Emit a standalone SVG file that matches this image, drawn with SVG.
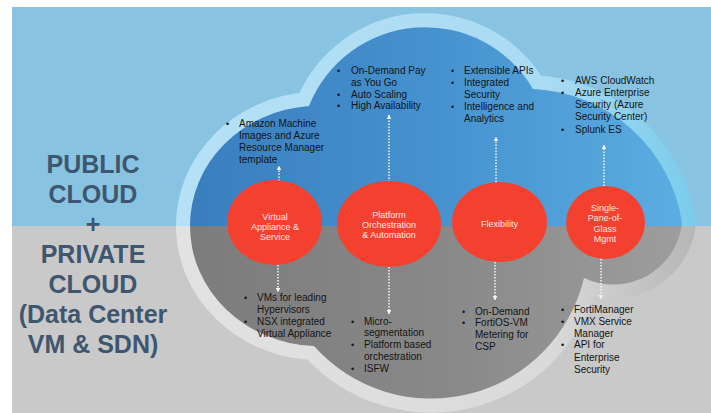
<svg xmlns="http://www.w3.org/2000/svg" width="711" height="413" viewBox="0 0 711 413">
<style>
.t{font-family:"Liberation Sans",Arial,sans-serif;font-size:10px;fill:#141414}
.bu{font-family:"Liberation Sans",Arial,sans-serif;font-size:9px;fill:#141414}
.h{font-family:"Liberation Sans",Arial,sans-serif;font-weight:bold;font-size:25px;fill:#3E5670;text-anchor:middle}
.n{font-family:"Liberation Sans",Arial,sans-serif;font-size:9px;fill:#FFE6E1;text-anchor:middle}
.node{fill:#F4412F}
.conn{stroke:#F4F4F4;stroke-width:1.5;stroke-dasharray:1.5 1.5;fill:none;marker-end:url(#ah)}
</style>
<defs>
<path id="cloud" d="M 314 346 A 129 120 0 0 1 190 226 A 129 120 0 0 1 309 106 A 125 125 0 0 1 533 89 A 157 157 0 0 1 682 223 A 69 69 0 0 1 584 278 A 157 157 0 0 1 314 346 Z"/>
<clipPath id="topClip"><rect x="0" y="0" width="711" height="226"/></clipPath>
<clipPath id="botClip"><rect x="0" y="226" width="711" height="187"/></clipPath>
<linearGradient id="haloTop" gradientUnits="userSpaceOnUse" x1="170" y1="0" x2="711" y2="0">
<stop offset="0" stop-color="#B6E1F6"/><stop offset="0.7" stop-color="#A9DBF3"/><stop offset="1" stop-color="#74CAEA"/>
</linearGradient>
<linearGradient id="haloBot" gradientUnits="userSpaceOnUse" x1="170" y1="0" x2="711" y2="0">
<stop offset="0" stop-color="#E2E2E2"/><stop offset="0.7" stop-color="#DADADA"/><stop offset="1" stop-color="#B2B2B2"/>
</linearGradient>
<linearGradient id="fillTop" gradientUnits="userSpaceOnUse" x1="190" y1="0" x2="690" y2="0">
<stop offset="0" stop-color="#3A7EBE"/><stop offset="0.5" stop-color="#4692CF"/><stop offset="1" stop-color="#5CAEE3"/>
</linearGradient>
<linearGradient id="fillBot" gradientUnits="userSpaceOnUse" x1="190" y1="0" x2="690" y2="0">
<stop offset="0" stop-color="#7C7C7C"/><stop offset="0.5" stop-color="#888888"/><stop offset="1" stop-color="#9E9E9E"/>
</linearGradient>
<marker id="ah" viewBox="0 0 10 10" refX="9" refY="5" markerWidth="4.5" markerHeight="4.5" markerUnits="userSpaceOnUse" orient="auto">
<path d="M0,0 L10,5 L0,10 z" fill="#F4F4F4"/>
</marker>
</defs>

<g id="background">
<rect x="0" y="0" width="711" height="413" fill="#FFFFFF"/>
<rect x="12" y="7" width="699" height="219" fill="#88C4E2"/>
<rect x="12" y="226" width="699" height="187" fill="#C9C9C9"/>
</g>

<g id="cloud-shape">
<g clip-path="url(#topClip)">
<use href="#cloud" fill="none" stroke="url(#haloTop)" stroke-width="28" stroke-linejoin="round"/>
<use href="#cloud" fill="url(#fillTop)"/>
</g>
<g clip-path="url(#botClip)">
<use href="#cloud" fill="none" stroke="url(#haloBot)" stroke-width="28" stroke-linejoin="round"/>
<use href="#cloud" fill="url(#fillBot)"/>
</g>
</g>

<g id="title">
<text class="h" x="93" y="173">PUBLIC</text>
<text class="h" x="93" y="203">CLOUD</text>
<text class="h" x="93" y="233">+</text>
<text class="h" x="93" y="263">PRIVATE</text>
<text class="h" x="93" y="293">CLOUD</text>
<text class="h" x="93" y="323">(Data Center</text>
<text class="h" x="93" y="353">VM &amp; SDN)</text>
</g>

<g id="connectors">
<line class="conn" x1="279" y1="181" x2="279" y2="166"/>
<line class="conn" x1="278" y1="265" x2="278" y2="292"/>
<line class="conn" x1="389" y1="182" x2="389" y2="115"/>
<line class="conn" x1="389" y1="267" x2="389" y2="314"/>
<line class="conn" x1="496" y1="182" x2="496" y2="137"/>
<line class="conn" x1="495" y1="262" x2="495" y2="300"/>
<line class="conn" x1="604" y1="186" x2="604" y2="145"/>
<line class="conn" x1="601" y1="259" x2="601" y2="299"/>
</g>

<g id="node-virtual">
<ellipse class="node" cx="274.5" cy="222.5" rx="47.5" ry="42.5"/>
<text class="n" x="275" y="219.5">Virtual</text>
<text class="n" x="275" y="229.5">Appliance &amp;</text>
<text class="n" x="275" y="239.5">Service</text>
</g>
<g id="node-platform">
<ellipse class="node" cx="389" cy="224" rx="52" ry="43"/>
<text class="n" x="389" y="217.5">Platform</text>
<text class="n" x="389" y="227.5">Orchestration</text>
<text class="n" x="389" y="237.5">&amp; Automation</text>
</g>
<g id="node-flexibility">
<ellipse class="node" cx="499.5" cy="222" rx="47.5" ry="40"/>
<text class="n" x="499.5" y="226.5">Flexibility</text>
</g>
<g id="node-single">
<ellipse class="node" cx="605.5" cy="222.5" rx="39.5" ry="36.5"/>
<text class="n" x="605" y="210.5">Single-</text>
<text class="n" x="605" y="221">Pane-of-</text>
<text class="n" x="605" y="231.5">Glass</text>
<text class="n" x="605" y="241.5">Mgmt</text>
</g>

<g id="list-amazon">
<text class="bu" x="226" y="127">•</text>
<text class="t" x="239" y="127">Amazon Machine</text>
<text class="t" x="239" y="139">Images and Azure</text>
<text class="t" x="239" y="151">Resource Manager</text>
<text class="t" x="239" y="163">template</text>
</g>
<g id="list-ondemand-top">
<text class="bu" x="337" y="74">•</text>
<text class="t" x="351" y="74">On-Demand Pay</text>
<text class="t" x="351" y="86">as You Go</text>
<text class="bu" x="337" y="97.5">•</text>
<text class="t" x="351" y="97.5">Auto Scaling</text>
<text class="bu" x="337" y="109">•</text>
<text class="t" x="351" y="109">High Availability</text>
</g>
<g id="list-apis">
<text class="bu" x="451" y="74">•</text>
<text class="t" x="464" y="74">Extensible APIs</text>
<text class="bu" x="451" y="86">•</text>
<text class="t" x="464" y="86">Integrated</text>
<text class="t" x="464" y="98">Security</text>
<text class="bu" x="451" y="110">•</text>
<text class="t" x="464" y="110">Intelligence and</text>
<text class="t" x="464" y="122">Analytics</text>
</g>
<g id="list-aws">
<text class="bu" x="561" y="84">•</text>
<text class="t" x="575" y="84">AWS CloudWatch</text>
<text class="bu" x="561" y="96">•</text>
<text class="t" x="575" y="96">Azure Enterprise</text>
<text class="t" x="575" y="108">Security (Azure</text>
<text class="t" x="575" y="120">Security Center)</text>
<text class="bu" x="561" y="133">•</text>
<text class="t" x="575" y="133">Splunk ES</text>
</g>
<g id="list-vms">
<text class="bu" x="244" y="301">•</text>
<text class="t" x="257" y="301">VMs for leading</text>
<text class="t" x="257" y="313">Hypervisors</text>
<text class="bu" x="244" y="325">•</text>
<text class="t" x="257" y="325">NSX integrated</text>
<text class="t" x="257" y="337">Virtual Appliance</text>
</g>
<g id="list-micro">
<text class="bu" x="351" y="325">•</text>
<text class="t" x="364" y="325">Micro-</text>
<text class="t" x="364" y="336">segmentation</text>
<text class="bu" x="351" y="348">•</text>
<text class="t" x="364" y="348">Platform based</text>
<text class="t" x="364" y="360">orchestration</text>
<text class="bu" x="351" y="372">•</text>
<text class="t" x="364" y="372">ISFW</text>
</g>
<g id="list-ondemand-bottom">
<text class="bu" x="462" y="315">•</text>
<text class="t" x="475" y="315">On-Demand</text>
<text class="bu" x="462" y="326">•</text>
<text class="t" x="475" y="326">FortiOS-VM</text>
<text class="t" x="475" y="338">Metering for</text>
<text class="t" x="475" y="350">CSP</text>
</g>
<g id="list-forti">
<text class="bu" x="561" y="313">•</text>
<text class="t" x="574" y="313">FortiManager</text>
<text class="bu" x="561" y="325">•</text>
<text class="t" x="574" y="325">VMX Service</text>
<text class="t" x="574" y="337">Manager</text>
<text class="bu" x="561" y="348">•</text>
<text class="t" x="574" y="348">API for</text>
<text class="t" x="574" y="361">Enterprise</text>
<text class="t" x="574" y="373">Security</text>
</g>
</svg>
